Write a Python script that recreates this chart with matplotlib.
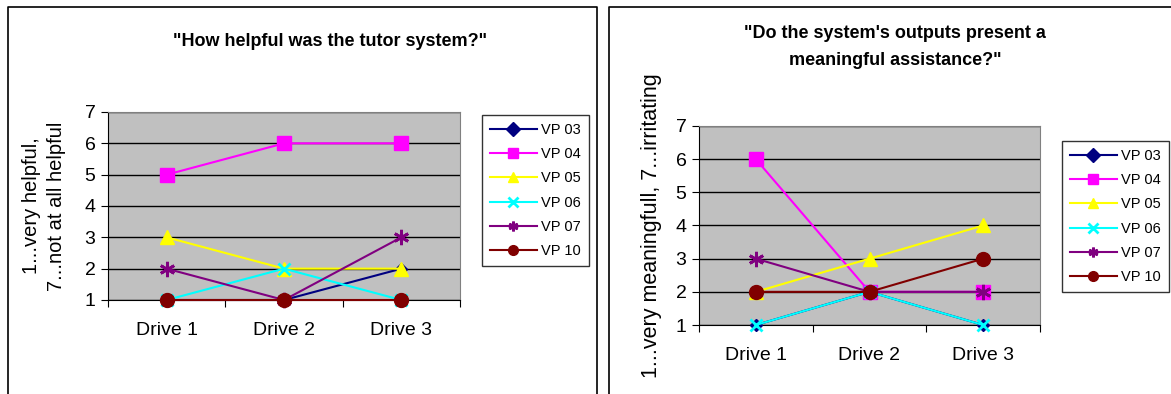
import numpy as np
import matplotlib
matplotlib.use("Agg")
import matplotlib.pyplot as plt
from matplotlib.lines import Line2D

plt.rcParams['font.family'] = ['Liberation Sans', 'DejaVu Sans']

drives = ["Drive 1", "Drive 2", "Drive 3"]
people = ["VP 03", "VP 04", "VP 05", "VP 06", "VP 07", "VP 10"]

# "How helpful was the tutor system?"
helpful = {
    "VP 03": [1, 1, 2],
    "VP 04": [5, 6, 6],
    "VP 05": [3, 2, 2],
    "VP 06": [1, 2, 1],
    "VP 07": [2, 1, 3],
    "VP 10": [1, 1, 1],
}
# "Do the system's outputs present a meaningful assistance?"
meaningful = {
    "VP 03": [1, 2, 1],
    "VP 04": [6, 2, 2],
    "VP 05": [2, 3, 4],
    "VP 06": [1, 2, 1],
    "VP 07": [3, 2, 2],
    "VP 10": [2, 2, 3],
}

colors = ["#000080", "#FF00FF", "#FFFF00", "#00FFFF", "#800080", "#800000"]
asterisk = (6, 2, 0)
markers = ["D", "s", "^", "x", asterisk, "o"]
msizes = [6, 10, 10, 8, 11, 10]

W, H = 1171, 394
fig = plt.figure(figsize=(W / 100, H / 100), dpi=100)


def box(x0, y0, x1, y1):
    # pixel box (top-left origin) -> figure fraction
    return [x0 / W, 1 - y1 / H, (x1 - x0) / W, (y1 - y0) / H]


def draw(rect, data, title, title_y, ylabel, ylabel_x, ylabel_fs, leg_xy):
    ax = fig.add_axes(box(*rect))
    ax.set_facecolor("#C0C0C0")
    x = np.arange(len(drives))
    for i, p in enumerate(people):
        ax.plot(x, data[p], color=colors[i], marker=markers[i], ms=msizes[i],
                mew=2 if i in (3, 4) else 1, lw=1.5, label=p, clip_on=False,
                zorder=3 + i)
    ax.set_xlim(-0.5, 2.5)
    ax.set_ylim(1, 7)
    ax.set_yticks(range(1, 8))
    ax.yaxis.grid(True, color="black", lw=1)
    ax.set_axisbelow(True)
    ax.set_xticks([-0.5, 0.5, 1.5, 2.5])
    ax.set_xticklabels([])
    ax.set_xticks(x, minor=True)
    ax.set_xticklabels(drives, minor=True, fontsize=14)
    ax.tick_params(axis="x", which="minor", length=0, pad=16)
    ax.tick_params(axis="x", which="major", length=5, direction="out")
    ax.tick_params(axis="y", length=5, labelsize=14, pad=4)
    for s in ["top", "right"]:
        ax.spines[s].set_color("#808080")
    for s in ["left", "bottom"]:
        ax.spines[s].set_color("black")

    tx, ty = title_y
    fig.text(tx / W, 1 - ty / H, title, ha="center", va="center",
             fontsize=13, fontweight="bold", linespacing=1.75)
    cy = 1 - (rect[1] + rect[3]) / 2 / H
    fig.text(ylabel_x / W, cy, ylabel, rotation=90, ha="center", va="center",
             fontsize=ylabel_fs, linespacing=1.35)

    leg = ax.legend(loc="upper left", bbox_to_anchor=(leg_xy[0] / W, 1 - leg_xy[1] / H),
                    bbox_transform=fig.transFigure, fontsize=10.5, frameon=True,
                    fancybox=False, edgecolor="black", handlelength=3.2,
                    labelspacing=0.7, borderpad=0.55, handletextpad=0.3,
                    borderaxespad=0)
    leg.get_frame().set_linewidth(1)
    for h in leg.legend_handles:
        h.set_markersize(7)
    return ax


draw((108, 112, 460, 300), helpful, '"How helpful was the tutor system?"',
     (330, 42), "1...very helpful,\n7...not at all helpful", 44, 14.5, (482, 115))
draw((699, 126, 1040, 325), meaningful,
     '"Do the system\'s outputs present a\nmeaningful assistance?"',
     (895, 47), "1...very meaningfull, 7...irritating", 651, 15.5, (1062, 141))

# chart frames
for xs, ys in [([8, 8, 597, 597], [H + 5, 7, 7, H + 5]),
               ([1175, 609, 609], [7, 7, H + 5])]:
    fig.add_artist(Line2D([v / W for v in xs], [1 - v / H for v in ys],
                          color="black", lw=1.2, transform=fig.transFigure))

fig.savefig("out.png", dpi=100)
